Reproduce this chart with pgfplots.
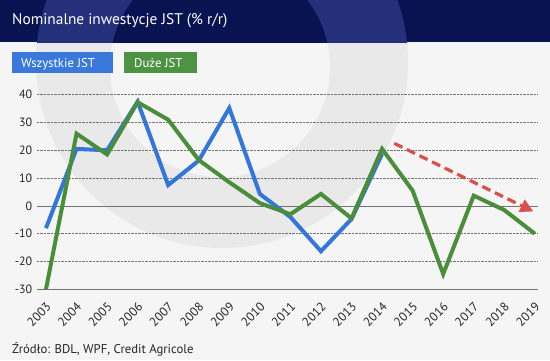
\documentclass[border=0pt]{standalone}
\usepackage{pgfplots}
\pgfplotsset{compat=1.18}
\usetikzlibrary{arrows.meta}
\usepackage{fontspec}
\setmainfont{PT Sans}
\definecolor{navy}{HTML}{0A1352}
\definecolor{navyring}{HTML}{24317A}
\definecolor{bg}{HTML}{F5F5F5}
\definecolor{bgring}{HTML}{E9E9E9}
\definecolor{cblue}{HTML}{3376DB}
\definecolor{cgreen}{HTML}{4A8E3C}
\definecolor{lblue}{HTML}{3A78DC}
\definecolor{lgreen}{HTML}{4E9244}
\definecolor{cred}{HTML}{D9504B}
\begin{document}
\begin{tikzpicture}[x=1pt,y=1pt]
\useasboundingbox (0,0) rectangle (550,360);
% body background
\fill[bg] (0,0) rectangle (550,318);
\begin{scope}
\clip (0,0) rectangle (550,318);
\fill[bgring] (222,298) circle (186);
\fill[bg] (220,293) circle (110);
\end{scope}
% header
\fill[navy] (0,318) rectangle (550,360);
\begin{scope}
\clip (0,318) rectangle (550,360);
\fill[navyring] (222,298) circle (186);
\fill[navy] (220,293) circle (110);
\end{scope}
\node[anchor=base west, text=white, font=\fontsize{15.4}{18}\selectfont, inner sep=0] at (12,336) {Nominalne inwestycje JST (\% r/r)};
% legend
\fill[lblue] (12,287) rectangle (113,308);
\node[anchor=base west, text=white, font=\fontsize{12.8}{14}\selectfont, inner sep=0] at (21,293) {Wszystkie JST};
\fill[lgreen] (124,287) rectangle (197,308);
\node[anchor=base west, text=white, font=\fontsize{12.8}{14}\selectfont, inner sep=0] at (134,293) {Duże JST};
% source
\node[anchor=base west, text=black!85, font=\fontsize{12.7}{14}\selectfont, inner sep=0] at (12,7) {Źródło: BDL, WPF, Credit Agricole};
\begin{axis}[
  at={(36.8pt,70.7pt)}, anchor=south west,
  scale only axis, width=500.2pt, height=194.6pt,
  xmin=2002.7, xmax=2019.07, ymin=-30, ymax=40,
  clip=false,
  axis line style={draw=none},
  tick style={draw=none},
  ytick={-30,-20,...,40},
  xtick={2003,...,2019},
  ymajorgrids,
  grid style={densely dotted, black!55, line width=0.6pt},
  extra y ticks={-30,0},
  extra y tick labels={},
  extra y tick style={grid style={solid, black!55, line width=0.8pt}},
  /pgf/number format/assume math mode=true,
  /pgf/number format/1000 sep={},
  yticklabel style={font=\fontsize{12}{14}\selectfont, text=black!85, xshift=-1pt},
  xticklabel style={font=\fontsize{12.5}{14}\selectfont, text=black!85, xshift=-0.5pt, yshift=-7.3pt, rotate=45, anchor=north east},
]
\addplot[cblue, line width=4pt, line join=miter] coordinates {
(2003,-8) (2004,20.5) (2005,20) (2006,37.5) (2007,7.5) (2008,16.3) (2009,35.2) (2010,4.3) (2011,-4) (2012,-16.3) (2013,-4.7) (2014,18.7)};
\addplot[cgreen, line width=4pt, line join=miter] coordinates {
(2003,-30) (2004,26) (2005,18.5) (2006,37.3) (2007,31) (2008,16.5) (2009,8.5) (2010,1) (2011,-3) (2012,4.3) (2013,-4.5) (2014,20.5) (2015,5.5) (2016,-24.5) (2017,3.7) (2018,-1.5) (2019,-10)};
\addplot[cred, line width=3.2pt, dash pattern=on 9pt off 5pt, -{Triangle[length=13pt,width=13pt]}] coordinates {(2014.4,22.5) (2018.95,-2)};
\end{axis}
\end{tikzpicture}
\end{document}
